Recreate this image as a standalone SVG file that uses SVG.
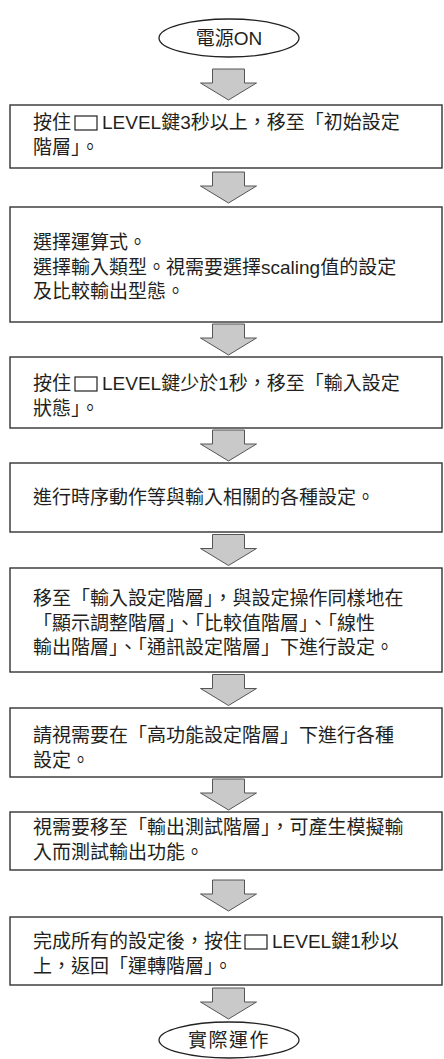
<svg xmlns="http://www.w3.org/2000/svg" width="444" height="1059" viewBox="0 0 444 1059">
<style>
.bx{fill:#fff;stroke:#333;stroke-width:1.4}
.el{fill:#fff;stroke:#222;stroke-width:1.3}
.t{font-family:'Liberation Sans','Noto Sans CJK TC',sans-serif;font-size:19px;fill:#231f20}
.tc{text-anchor:middle}
.key{fill:#fff;stroke:#231f20;stroke-width:1.2}
.ar{fill:#c9c9c9;stroke:#555;stroke-width:1}
</style>
<defs>
<path id="arrow" class="ar" d="M-16,0 H16 V14 H28 L0,31 L-28,14 H-16 Z"/>
</defs>
<rect width="444" height="1059" fill="#fff"/>
<g id="connectors">
<use href="#arrow" x="228.5" y="69"/>
<use href="#arrow" x="228.5" y="172"/>
<use href="#arrow" x="228.5" y="324"/>
<use href="#arrow" x="228.5" y="430"/>
<use href="#arrow" x="228.5" y="534.5"/>
<use href="#arrow" x="228.5" y="674.5"/>
<use href="#arrow" x="228.5" y="779"/>
<use href="#arrow" x="228.5" y="880"/>
<use href="#arrow" x="228.5" y="988"/>
</g>
<g id="start">
<ellipse class="el" cx="229" cy="38" rx="70" ry="19"/>
<text class="t tc" x="229" y="45">電源ON</text>
</g>
<g id="step1">
<rect class="bx" x="10" y="105" width="432" height="63"/>
<text class="t" x="33" y="129">按住</text>
<rect class="key" x="75" y="116" width="22" height="14"/>
<text class="t" x="102" y="129">LEVEL鍵3秒以上，移至「初始設定</text>
<text class="t" x="33" y="153.5">階層」。</text>
</g>
<g id="step2">
<rect class="bx" x="10" y="207" width="432" height="115"/>
<text class="t" x="33" y="249">選擇運算式。</text>
<text class="t" x="33" y="273.5">選擇輸入類型。視需要選擇scaling值的設定</text>
<text class="t" x="33" y="298">及比較輸出型態。</text>
</g>
<g id="step3">
<rect class="bx" x="10" y="357" width="432" height="71"/>
<text class="t" x="33" y="390">按住</text>
<rect class="key" x="75" y="377" width="22" height="14"/>
<text class="t" x="102" y="390">LEVEL鍵少於1秒，移至「輸入設定</text>
<text class="t" x="33" y="414.5">狀態」。</text>
</g>
<g id="step4">
<rect class="bx" x="10" y="463" width="432" height="69"/>
<text class="t" x="33" y="504">進行時序動作等與輸入相關的各種設定。</text>
</g>
<g id="step5">
<rect class="bx" x="10" y="568" width="432" height="104"/>
<text class="t" x="33" y="605">移至「輸入設定階層」，與設定操作同樣地在</text>
<text class="t" x="33" y="629.5">「顯示調整階層」、「比較值階層」、「線性</text>
<text class="t" x="33" y="654">輸出階層」、「通訊設定階層」下進行設定。</text>
</g>
<g id="step6">
<rect class="bx" x="10" y="708" width="432" height="69"/>
<text class="t" x="33" y="742">請視需要在「高功能設定階層」下進行各種</text>
<text class="t" x="33" y="766.5">設定。</text>
</g>
<g id="step7">
<rect class="bx" x="10" y="812" width="432" height="58"/>
<text class="t" x="33" y="834">視需要移至「輸出測試階層」，可產生模擬輸</text>
<text class="t" x="33" y="858.5">入而測試輸出功能。</text>
</g>
<g id="step8">
<rect class="bx" x="10" y="917" width="432" height="68"/>
<text class="t" x="33" y="948">完成所有的設定後，按住</text>
<rect class="key" x="245" y="935" width="22" height="14"/>
<text class="t" x="272" y="948">LEVEL鍵1秒以</text>
<text class="t" x="33" y="972.5">上，返回「運轉階層」。</text>
</g>
<g id="end">
<ellipse class="el" cx="229" cy="1040" rx="70" ry="18"/>
<text class="t tc" x="229" y="1047" letter-spacing="1.5">實際運作</text>
</g>
</svg>
